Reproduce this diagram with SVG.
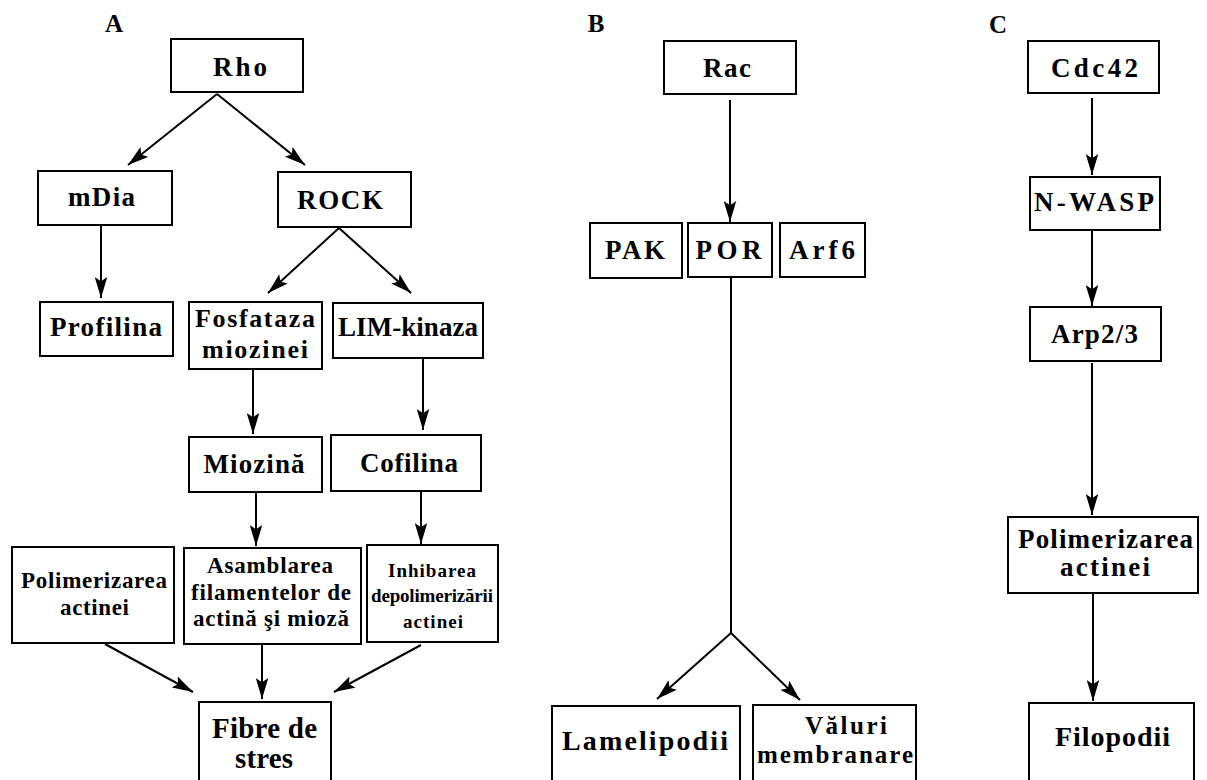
<svg xmlns="http://www.w3.org/2000/svg" width="1207" height="780" viewBox="0 0 1207 780">
<style>
  .box { fill: #fff; stroke: #000; stroke-width: 2; }
  .t { font-family: "Liberation Serif", "Times New Roman", serif; font-weight: bold; fill: #000; text-anchor: middle; }
  .edge { stroke: #000; stroke-width: 2; fill: none; }
</style>
<defs>
  <marker id="ah" viewBox="0 0 20 12" markerWidth="21" markerHeight="13" markerUnits="userSpaceOnUse" refX="20" refY="6" orient="auto">
    <path d="M0,0 L20,6 L0,12 L4,6 z" fill="#000"/>
  </marker>
</defs>
<rect width="1207" height="780" fill="#fff"/>

<text class="t" x="114" y="32" font-size="25">A</text>
<text class="t" x="596" y="32" font-size="25">B</text>
<text class="t" x="998" y="33" font-size="25">C</text>

<g id="connectors">
  <line class="edge" x1="217" y1="94" x2="128" y2="165" marker-end="url(#ah)"/>
  <line class="edge" x1="217" y1="94" x2="305" y2="165" marker-end="url(#ah)"/>
  <line class="edge" x1="101" y1="226" x2="101" y2="298" marker-end="url(#ah)"/>
  <line class="edge" x1="339" y1="228" x2="268" y2="293" marker-end="url(#ah)"/>
  <line class="edge" x1="339" y1="228" x2="411" y2="293" marker-end="url(#ah)"/>
  <line class="edge" x1="253" y1="369" x2="253" y2="434" marker-end="url(#ah)"/>
  <line class="edge" x1="423" y1="358" x2="423" y2="430" marker-end="url(#ah)"/>
  <line class="edge" x1="256" y1="492" x2="256" y2="546" marker-end="url(#ah)"/>
  <line class="edge" x1="421" y1="491" x2="421" y2="544" marker-end="url(#ah)"/>
  <line class="edge" x1="105" y1="644" x2="193" y2="692" marker-end="url(#ah)"/>
  <line class="edge" x1="262" y1="644" x2="262" y2="699" marker-end="url(#ah)"/>
  <line class="edge" x1="421" y1="645" x2="334" y2="692" marker-end="url(#ah)"/>
  <line class="edge" x1="730" y1="100" x2="730" y2="222" marker-end="url(#ah)"/>
  <line class="edge" x1="731" y1="277" x2="731" y2="633"/>
  <line class="edge" x1="731" y1="633" x2="657" y2="699" marker-end="url(#ah)"/>
  <line class="edge" x1="731" y1="633" x2="800" y2="700" marker-end="url(#ah)"/>
  <line class="edge" x1="1092" y1="98" x2="1092" y2="175" marker-end="url(#ah)"/>
  <line class="edge" x1="1092" y1="230" x2="1092" y2="306" marker-end="url(#ah)"/>
  <line class="edge" x1="1092" y1="363" x2="1092" y2="515" marker-end="url(#ah)"/>
  <line class="edge" x1="1093" y1="593" x2="1093" y2="701" marker-end="url(#ah)"/>
</g>

<g id="rho"><rect class="box" x="171" y="39" width="132" height="53"/>
  <text class="t" x="240" y="76" font-size="27" textLength="54" lengthAdjust="spacing">Rho</text></g>
<g id="mdia"><rect class="box" x="38" y="171" width="134" height="54"/>
  <text class="t" x="101.5" y="206" font-size="27" textLength="67" lengthAdjust="spacing">mDia</text></g>
<g id="rock"><rect class="box" x="278" y="172" width="133" height="55"/>
  <text class="t" x="340" y="209" font-size="27" textLength="86" lengthAdjust="spacing">ROCK</text></g>
<g id="profilina"><rect class="box" x="40" y="302" width="133" height="54"/>
  <text class="t" x="106" y="336" font-size="27" textLength="112" lengthAdjust="spacing">Profilina</text></g>
<g id="fosfataza"><rect class="box" x="189" y="302" width="133" height="67"/>
  <text class="t" x="255" y="327" font-size="26" textLength="120" lengthAdjust="spacing">Fosfataza</text>
  <text class="t" x="255" y="358" font-size="26" textLength="106" lengthAdjust="spacing">miozinei</text></g>
<g id="limkinaza"><rect class="box" x="333" y="303" width="150" height="55"/>
  <text class="t" x="408" y="336" font-size="27" textLength="140" lengthAdjust="spacing">LIM-kinaza</text></g>
<g id="miozina"><rect class="box" x="189" y="437" width="133" height="55"/>
  <text class="t" x="254" y="473" font-size="27" textLength="101" lengthAdjust="spacing">Miozină</text></g>
<g id="cofilina"><rect class="box" x="331" y="435" width="150" height="56"/>
  <text class="t" x="409" y="472" font-size="27" textLength="98" lengthAdjust="spacing">Cofilina</text></g>
<g id="polimerizarea-a"><rect class="box" x="12" y="547" width="162" height="96"/>
  <text class="t" x="94" y="588" font-size="23" textLength="146" lengthAdjust="spacing">Polimerizarea</text>
  <text class="t" x="94.5" y="615" font-size="23" textLength="69" lengthAdjust="spacing">actinei</text></g>
<g id="asamblarea"><rect class="box" x="184" y="548" width="177" height="96"/>
  <text class="t" x="270" y="573" font-size="23" textLength="126" lengthAdjust="spacing">Asamblarea</text>
  <text class="t" x="271" y="600" font-size="23" textLength="160" lengthAdjust="spacing">filamentelor de</text>
  <text class="t" x="271" y="626" font-size="23" textLength="156" lengthAdjust="spacing">actină şi mioză</text></g>
<g id="inhibarea"><rect class="box" x="367" y="545" width="131" height="97"/>
  <text class="t" x="432" y="577" font-size="19" textLength="88" lengthAdjust="spacing">Inhibarea</text>
  <text class="t" x="432" y="602" font-size="19" textLength="122" lengthAdjust="spacing">depolimerizării</text>
  <text class="t" x="433" y="628" font-size="19" textLength="60" lengthAdjust="spacing">actinei</text></g>
<g id="fibre"><rect class="box" x="199" y="702" width="132" height="90"/>
  <text class="t" x="264.5" y="738" font-size="29" textLength="105" lengthAdjust="spacing">Fibre de</text>
  <text class="t" x="264" y="768" font-size="29" textLength="58" lengthAdjust="spacing">stres</text></g>

<g id="rac"><rect class="box" x="664" y="41" width="132" height="53"/>
  <text class="t" x="727" y="77" font-size="27" textLength="48" lengthAdjust="spacing">Rac</text></g>
<g id="pak"><rect class="box" x="590" y="223" width="92" height="55"/>
  <text class="t" x="635" y="259" font-size="27" textLength="60" lengthAdjust="spacing">PAK</text></g>
<g id="por"><rect class="box" x="688" y="223" width="84" height="54"/>
  <text class="t" x="728.5" y="259" font-size="27" textLength="66" lengthAdjust="spacing">POR</text></g>
<g id="arf6"><rect class="box" x="780" y="223" width="85" height="54"/>
  <text class="t" x="822" y="259" font-size="27" textLength="66" lengthAdjust="spacing">Arf6</text></g>
<g id="lamelipodii"><rect class="box" x="552" y="706" width="188" height="90"/>
  <text class="t" x="645" y="750" font-size="28" textLength="166" lengthAdjust="spacing">Lamelipodii</text></g>
<g id="valuri"><rect class="box" x="753" y="705" width="163" height="90"/>
  <text class="t" x="846" y="734" font-size="25" textLength="82" lengthAdjust="spacing">Văluri</text>
  <text class="t" x="835" y="763" font-size="25" textLength="156" lengthAdjust="spacing">membranare</text></g>

<g id="cdc42"><rect class="box" x="1028" y="41" width="131" height="52"/>
  <text class="t" x="1094.5" y="77" font-size="27" textLength="87" lengthAdjust="spacing">Cdc42</text></g>
<g id="nwasp"><rect class="box" x="1030" y="177" width="130" height="53"/>
  <text class="t" x="1094" y="211" font-size="27" textLength="120" lengthAdjust="spacing">N-WASP</text></g>
<g id="arp23"><rect class="box" x="1030" y="307" width="131" height="54"/>
  <text class="t" x="1094.5" y="343" font-size="27" textLength="87" lengthAdjust="spacing">Arp2/3</text></g>
<g id="polimerizarea-c"><rect class="box" x="1008" y="517" width="190" height="76"/>
  <text class="t" x="1105.5" y="548" font-size="27" textLength="175" lengthAdjust="spacing">Polimerizarea</text>
  <text class="t" x="1105" y="576" font-size="27" textLength="90" lengthAdjust="spacing">actinei</text></g>
<g id="filopodii"><rect class="box" x="1029" y="703" width="165" height="90"/>
  <text class="t" x="1112.5" y="746" font-size="28" textLength="115" lengthAdjust="spacing">Filopodii</text></g>
</svg>
